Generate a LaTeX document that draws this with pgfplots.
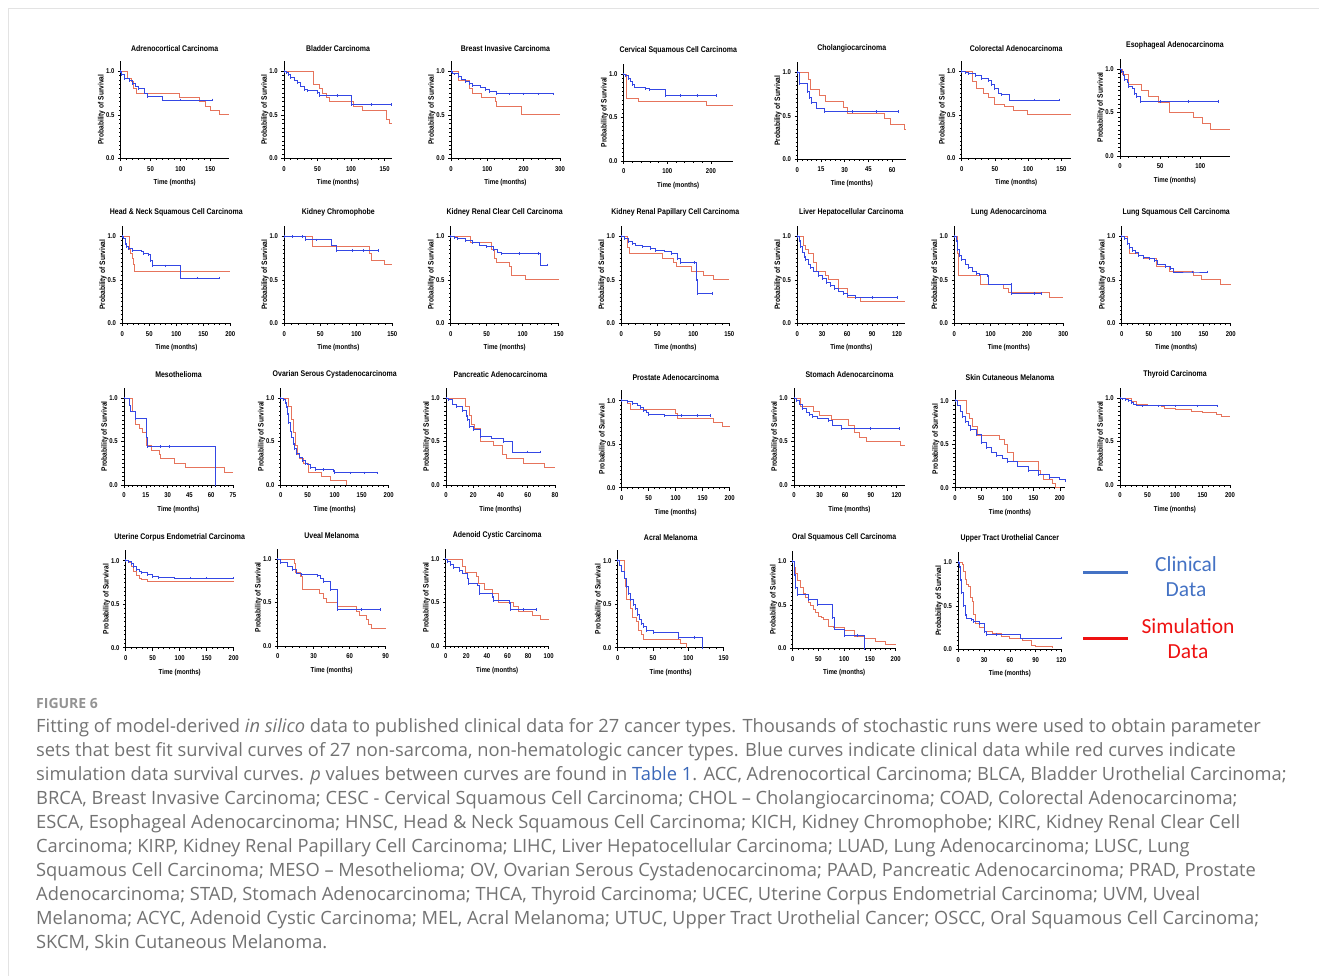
\documentclass[border=0pt]{standalone}
\usepackage{fontspec}
\setmainfont{Open Sans}
\newfontfamily\narrow[FakeStretch=0.85]{Liberation Sans}
\newfontfamily\legfont{Carlito}
\usepackage{pgfplots}
\pgfplotsset{compat=1.18}
\definecolor{clin}{HTML}{3447E4}
\definecolor{sim}{HTML}{E6745C}
\definecolor{captxt}{HTML}{727272}
\definecolor{link}{HTML}{3A67B8}
\definecolor{legblue}{HTML}{4472C4}
\definecolor{legred}{HTML}{EE1111}
\definecolor{framec}{HTML}{E3E3E3}

\pgfplotsset{
  km/.style={scale only axis, height=97.4pt, width=108pt, anchor=south west,
    xmin=0, ymin=0, ymax=1.12,
    axis x line=bottom, axis y line=left, axis line style={-, line width=0.7pt},
    ytick={0,0.5,1}, yticklabels={0.0,0.5,1.0},
    minor y tick num=9, minor x tick num=4,
    tick align=outside, major tick length=2.8pt, minor tick length=1.7pt,
    tick style={black, line width=0.55pt},
    ticklabel style={font=\narrow\bfseries\fontsize{7}{8}\selectfont},
    xticklabel style={yshift=-1.5pt},
    /pgf/number format/assume math mode=true,
    xlabel={Time (months)}, ylabel={Probability of Survival},
    xlabel style={font=\narrow\bfseries\fontsize{7.2}{8}\selectfont, yshift=-1.5pt},
    ylabel style={font=\narrow\bfseries\fontsize{7.8}{8}\selectfont, yshift=-6pt},
    title style={font=\narrow\bfseries\fontsize{8.2}{9}\selectfont, yshift=0pt},
    clip=false},
  simline/.style={sim, const plot, line width=0.9pt, mark=none},
  clinline/.style={clin, const plot, line width=0.9pt, mark=|, mark size=1.3pt},
}

\begin{document}
\begin{tikzpicture}[x=1pt,y=-1pt]
\useasboundingbox (0,0) rectangle (1319,976);
\draw[framec, line width=1pt] (8,976) -- (8,9) -- (1319,9);

% ---------------- row 1
\begin{axis}[km, at={(120.7pt,-158.3pt)}, xmax=181, xtick={0,50,100,150}, title={Adrenocortical Carcinoma}]
\addplot[simline] coordinates {(0,1)(11,0.92)(18,0.88)(22,0.8)(27,0.75)(98,0.70)(132,0.65)(142,0.6)(150,0.55)(166,0.5)(181,0.5)};
\addplot[clinline] coordinates {(0,1)(2,0.96)(6,0.92)(15,0.89)(20,0.86)(25,0.83)(30,0.80)(40,0.75)(45,0.71)(70,0.67)(100,0.67)(153,0.67)};
\end{axis}
\begin{axis}[km, at={(284pt,-158.3pt)}, xmax=161, xtick={0,50,100,150}, title={Bladder Carcinoma}]
\addplot[simline] coordinates {(0,1)(43.5,0.85)(53,0.8)(58,0.75)(64,0.7)(68,0.65)(103,0.6)(117,0.55)(152,0.45)(157,0.4)(161,0.4)};
\addplot[clinline] coordinates {(0,1)(3,0.99)(6,0.96)(10,0.93)(15,0.9)(20,0.87)(25,0.83)(30,0.79)(35,0.78)(50,0.76)(53,0.72)(80,0.72)(100,0.62)(130,0.62)(160,0.62)};
\end{axis}
\begin{axis}[km, at={(451pt,-158.3pt)}, width=109pt, xmax=300, xtick={0,100,200,300}, title={Breast Invasive Carcinoma}]
\addplot[simline] coordinates {(0,1)(20,0.9)(52,0.8)(59,0.75)(84,0.7)(121,0.65)(126,0.6)(195,0.5)(300,0.5)};
\addplot[clinline] coordinates {(0,1)(5,0.98)(10,0.97)(20,0.94)(30,0.91)(40,0.88)(50,0.86)(60,0.84)(80,0.82)(95,0.79)(105,0.77)(125,0.74)(160,0.74)(200,0.74)(240,0.74)(282,0.74)};
\end{axis}
\begin{axis}[km, at={(623.7pt,-161pt)}, width=109pt, xmax=250, xtick={0,100,200}, title={Cervical Squamous Cell Carcinoma}]
\addplot[simline] coordinates {(0,1)(7,0.72)(34,0.68)(190,0.64)(250,0.64)};
\addplot[clinline] coordinates {(0,1)(5,0.98)(10,0.95)(15,0.92)(20,0.88)(25,0.85)(50,0.83)(60,0.82)(95,0.75)(130,0.75)(170,0.75)(212,0.75)};
\end{axis}
\begin{axis}[km, at={(797.3pt,-159.3pt)}, width=109pt, xmax=69, xtick={0,15,30,45,60}, title={Cholangiocarcinoma}]
\addplot[simline] coordinates {(0,1)(7.3,0.92)(8.4,0.8)(14,0.73)(18,0.67)(29,0.6)(31.5,0.53)(55,0.47)(59,0.4)(68,0.34)(69,0.34)};
\addplot[clinline] coordinates {(0,1)(1.3,0.87)(6.5,0.78)(7.5,0.71)(9,0.65)(12,0.59)(17.4,0.55)(35,0.55)(50,0.55)(64,0.55)};
\end{axis}
\begin{axis}[km, at={(961.7pt,-158.3pt)}, width=109pt, xmax=164, xtick={0,50,100,150}, title={Colorectal Adenocarcinoma}]
\addplot[simline] coordinates {(0,1)(16.5,0.88)(22.5,0.8)(32,0.75)(40,0.7)(50,0.62)(65,0.6)(78,0.55)(99,0.5)(164,0.5)};
\addplot[clinline] coordinates {(0,1)(5,0.99)(10,0.97)(20,0.95)(30,0.92)(40,0.89)(45,0.85)(50,0.8)(55,0.75)(60,0.73)(72,0.67)(110,0.67)(147,0.67)};
\end{axis}
\begin{axis}[km, at={(1120pt,-156pt)}, width=110pt, xmax=137, xtick={0,50,100}, title={Esophageal Adenocarcinoma}]
\addplot[simline] coordinates {(0,1)(3.3,0.94)(10,0.82)(27,0.75)(35,0.69)(48,0.62)(62,0.5)(92,0.44)(103,0.37)(113,0.31)(137,0.31)};
\addplot[clinline] coordinates {(0,1)(2,0.97)(4,0.93)(6,0.88)(9,0.85)(11,0.8)(15,0.78)(18,0.72)(21,0.68)(25,0.63)(50,0.63)(85,0.63)(123,0.63)};
\end{axis}

% ---------------- row 2
\begin{axis}[km, at={(122.3pt,-323.3pt)}, xmax=200, xtick={0,50,100,150,200}, title={Head \& Neck Squamous Cell Carcinoma}]
\addplot[simline] coordinates {(0,1)(13,0.85)(15,0.8)(18.5,0.75)(20,0.68)(23,0.6)(200,0.6)};
\addplot[clinline] coordinates {(0,1)(3,0.98)(6,0.92)(8,0.88)(12,0.86)(18,0.84)(35,0.83)(40,0.8)(48,0.79)(52,0.72)(55,0.66)(80,0.66)(108,0.52)(140,0.52)(180,0.52)};
\end{axis}
\begin{axis}[km, at={(284.3pt,-323.3pt)}, xmax=150, xtick={0,50,100,150}, title={Kidney Chromophobe}]
\addplot[simline] coordinates {(0,1)(39,0.88)(118,0.8)(121,0.72)(139,0.68)(150,0.68)};
\addplot[clinline] coordinates {(0,1)(12,1)(25,1)(30,0.96)(45,0.96)(65,0.9)(73,0.84)(95,0.84)(110,0.84)(131,0.84)};
\end{axis}
\begin{axis}[km, at={(450.7pt,-323.3pt)}, xmax=150, xtick={0,50,100,150}, title={Kidney Renal Clear Cell Carcinoma}]
\addplot[simline] coordinates {(0,1)(28,0.93)(57,0.85)(61,0.75)(64,0.7)(81,0.65)(85,0.55)(104,0.5)(150,0.5)};
\addplot[clinline] coordinates {(0,1)(5,0.99)(10,0.97)(20,0.95)(30,0.93)(40,0.9)(50,0.88)(60,0.85)(65,0.82)(70,0.8)(95,0.8)(122,0.8)(125,0.67)(134,0.67)};
\end{axis}
\begin{axis}[km, at={(621.3pt,-323.3pt)}, xmax=150, xtick={0,50,100,150}, title={Kidney Renal Papillary Cell Carcinoma}]
\addplot[simline] coordinates {(0,1)(9,0.87)(12,0.8)(57,0.75)(72,0.7)(76,0.65)(98,0.6)(114,0.55)(128,0.5)(150,0.5)};
\addplot[clinline] coordinates {(0,1)(5,0.97)(10,0.94)(15,0.92)(20,0.9)(30,0.88)(40,0.86)(48,0.84)(60,0.83)(70,0.8)(78,0.74)(82,0.7)(102,0.7)(104,0.5)(106,0.34)(126,0.34)};
\end{axis}
\begin{axis}[km, at={(797.3pt,-323.3pt)}, xmax=130, xtick={0,30,60,90,120}, title={Liver Hepatocellular Carcinoma}]
\addplot[simline] coordinates {(0,1)(7,0.9)(10,0.85)(14,0.8)(19,0.7)(23,0.6)(34,0.55)(37,0.5)(50,0.4)(60,0.3)(76,0.25)(130,0.25)};
\addplot[clinline] coordinates {(0,1)(2,0.95)(4,0.88)(6,0.82)(8,0.77)(10,0.73)(13,0.68)(16,0.64)(20,0.6)(25,0.55)(30,0.51)(35,0.47)(40,0.43)(45,0.4)(50,0.37)(55,0.34)(60,0.32)(70,0.3)(90,0.3)(121,0.3)};
\end{axis}
\begin{axis}[km, at={(954.3pt,-323.3pt)}, width=109pt, xmax=300, xtick={0,100,200,300}, title={Lung Adenocarcinoma}]
\addplot[simline] coordinates {(0,1)(8,0.8)(12,0.55)(72,0.45)(135,0.4)(148,0.35)(263,0.3)(300,0.3)};
\addplot[clinline] coordinates {(0,1)(5,0.95)(10,0.85)(15,0.78)(20,0.73)(30,0.68)(40,0.64)(50,0.6)(60,0.57)(70,0.56)(90,0.55)(95,0.45)(157,0.45)(158,0.34)(220,0.34)(240,0.34)};
\end{axis}
\begin{axis}[km, at={(1121.7pt,-323.3pt)}, width=109pt, xmax=200, xtick={0,50,100,150,200}, title={Lung Squamous Cell Carcinoma}]
\addplot[simline] coordinates {(0,1)(10,0.92)(15,0.8)(30,0.78)(40,0.75)(64,0.65)(88,0.6)(131,0.55)(146,0.5)(181,0.45)(200,0.45)};
\addplot[clinline] coordinates {(0,1)(5,0.97)(10,0.92)(15,0.87)(20,0.84)(25,0.81)(30,0.78)(40,0.76)(50,0.74)(60,0.72)(65,0.68)(80,0.65)(90,0.63)(95,0.59)(130,0.59)(157,0.59)};
\end{axis}

% ---------------- row 3
\begin{axis}[km, at={(124pt,-485pt)}, width=109pt, xmax=75, xtick={0,15,30,45,60,75}, title={Mesothelioma}]
\addplot[simline] coordinates {(0,1)(5.7,0.85)(8,0.7)(10.5,0.65)(12.6,0.6)(15.5,0.45)(19,0.4)(24.7,0.35)(25.4,0.3)(34.5,0.25)(42.6,0.2)(69.3,0.15)(75,0.15)};
\addplot[clinline] coordinates {(0,1)(3.7,0.92)(4.6,0.85)(8,0.76)(15.5,0.55)(16,0.44)(25,0.44)(31,0.44)(62.7,0)};
\end{axis}
\begin{axis}[km, at={(280.7pt,-485pt)}, xmax=200, xtick={0,50,100,150,200}, title={Ovarian Serous Cystadenocarcinoma}]
\addplot[simline] coordinates {(0,1)(14,0.9)(19,0.75)(23,0.6)(27.6,0.45)(31,0.35)(35.6,0.3)(42,0.25)(52,0.15)(75,0.1)(92,0.05)(121,0)};
\addplot[clinline] coordinates {(0,1)(5,0.98)(8,0.95)(10,0.9)(12,0.82)(15,0.72)(18,0.62)(20,0.55)(23,0.48)(26,0.42)(30,0.36)(35,0.32)(40,0.28)(45,0.25)(50,0.24)(55,0.2)(65,0.18)(80,0.18)(97,0.17)(100,0.14)(130,0.14)(155,0.14)(180,0.14)};
\end{axis}
\begin{axis}[km, at={(446pt,-485pt)}, width=109pt, xmax=80, xtick={0,20,40,60,80}, title={Pancreatic Adenocarcinoma}]
\addplot[simline] coordinates {(0,1)(14,0.9)(17,0.8)(19,0.7)(21,0.65)(25,0.5)(34.7,0.45)(41.6,0.35)(44.5,0.3)(57,0.25)(72,0.2)(80,0.2)};
\addplot[clinline] coordinates {(0,1)(2,0.98)(5,0.93)(8,0.9)(12,0.86)(15,0.8)(16,0.75)(17,0.67)(20,0.64)(25,0.56)(33,0.54)(42,0.5)(49,0.38)(60,0.38)(69,0.38)};
\end{axis}
\begin{axis}[km, at={(621.7pt,-487.7pt)}, xmax=200, xtick={0,50,100,150,200}, title={Prostate Adenocarcinoma}]
\addplot[simline] coordinates {(0,1)(10,0.97)(16,0.9)(99,0.85)(103,0.8)(170,0.75)(187,0.7)(200,0.7)};
\addplot[clinline] coordinates {(0,1)(10,0.99)(20,0.97)(30,0.95)(35,0.92)(40,0.89)(45,0.87)(50,0.84)(80,0.83)(110,0.83)(140,0.83)(165,0.83)};
\end{axis}
\begin{axis}[km, at={(794pt,-485pt)}, width=111pt, xmax=130, xtick={0,30,60,90,120}, title={Stomach Adenocarcinoma}]
\addplot[simline] coordinates {(0,1)(7.7,0.9)(22.5,0.85)(30,0.8)(44,0.75)(64,0.68)(71,0.6)(77,0.55)(84.5,0.5)(125,0.45)(130,0.45)};
\addplot[clinline] coordinates {(0,1)(3,0.97)(6,0.93)(10,0.88)(14,0.84)(18,0.81)(22,0.79)(27,0.77)(40,0.74)(45,0.69)(55,0.65)(90,0.65)(123,0.65)};
\end{axis}
\begin{axis}[km, at={(955pt,-487.7pt)}, width=110pt, xmax=210, xtick={0,50,100,150,200}, title={Skin Cutaneous Melanoma}]
\addplot[simline] coordinates {(0,1)(21,0.85)(27,0.8)(33,0.7)(42,0.6)(85,0.55)(94,0.5)(101,0.4)(111,0.3)(160,0.2)(163,0.15)(169,0.1)(186,0.05)(192,0)(200,0)};
\addplot[clinline] coordinates {(0,1)(5,0.95)(10,0.88)(15,0.82)(20,0.76)(25,0.72)(30,0.67)(40,0.61)(50,0.52)(60,0.46)(70,0.41)(80,0.37)(90,0.34)(100,0.3)(120,0.25)(140,0.2)(160,0.15)(180,0.12)(200,0.1)(210,0.08)};
\end{axis}
\begin{axis}[km, at={(1120pt,-485pt)}, width=110pt, xmax=200, xtick={0,50,100,150,200}, title={Thyroid Carcinoma}]
\addplot[simline] coordinates {(0,1)(10,0.99)(20,0.96)(30,0.93)(50,0.92)(75,0.9)(80,0.88)(100,0.87)(130,0.85)(150,0.83)(175,0.81)(185,0.79)(200,0.79)};
\addplot[clinline] coordinates {(0,1)(5,0.99)(10,0.98)(15,0.97)(20,0.95)(25,0.93)(30,0.92)(40,0.91)(70,0.91)(100,0.91)(140,0.91)(178,0.91)};
\end{axis}

% ---------------- row 4
\begin{axis}[km, at={(125.7pt,-647.7pt)}, xmax=200, xtick={0,50,100,150,200}, title={Uterine Corpus Endometrial Carcinoma}]
\addplot[simline] coordinates {(0,1)(5,0.98)(10,0.94)(15,0.88)(20,0.83)(25,0.8)(30,0.78)(40,0.76)(200,0.76)};
\addplot[clinline] coordinates {(0,1)(5,0.99)(10,0.97)(15,0.93)(20,0.9)(25,0.88)(30,0.86)(40,0.84)(50,0.82)(60,0.81)(90,0.8)(120,0.8)(150,0.8)(200,0.8)};
\end{axis}
\begin{axis}[km, at={(277.7pt,-646pt)}, xmax=90, xtick={0,30,60,90}, title={Uveal Melanoma}]
\addplot[simline] coordinates {(0,1)(14,0.95)(15,0.85)(19,0.8)(21,0.65)(35,0.6)(38.5,0.55)(41,0.5)(50,0.45)(66,0.4)(68,0.35)(74,0.3)(76,0.25)(78,0.2)(90,0.2)};
\addplot[clinline] coordinates {(0,1)(2,0.96)(8,0.92)(12,0.88)(16,0.84)(20,0.82)(33,0.81)(36,0.78)(38,0.74)(44,0.65)(50,0.42)(70,0.42)(86,0.42)};
\end{axis}
\begin{axis}[km, at={(445.7pt,-646pt)}, width=103pt, xmax=100, xtick={0,20,40,60,80,100}, title={Adenoid Cystic Carcinoma}]
\addplot[simline] coordinates {(0,1)(16,0.92)(19.5,0.85)(30,0.8)(32,0.72)(38,0.65)(45,0.6)(51,0.5)(66,0.45)(71,0.4)(84,0.35)(92,0.3)(100,0.3)};
\addplot[clinline] coordinates {(0,1)(2,0.97)(5,0.94)(8,0.9)(13,0.87)(16,0.84)(21,0.78)(22,0.72)(31,0.7)(33,0.6)(45,0.57)(46,0.52)(62,0.5)(63,0.42)(75,0.42)(88,0.42)};
\end{axis}
\begin{axis}[km, at={(617.7pt,-647.7pt)}, width=106pt, xmax=150, xtick={0,50,100,150}, title={Acral Melanoma}]
\addplot[simline] coordinates {(0,1)(9.5,0.8)(11.4,0.7)(13,0.55)(18.5,0.45)(21,0.35)(27,0.3)(29,0.2)(33,0.15)(36,0.1)(88.6,0.05)(96.7,0)};
\addplot[clinline] coordinates {(0,1)(3,0.95)(6,0.88)(9,0.8)(12,0.7)(15,0.62)(18,0.55)(22,0.5)(25,0.45)(28,0.38)(31,0.33)(34,0.28)(37,0.24)(40,0.2)(50,0.17)(86,0.12)(108,0.12)(120,0)};
\end{axis}
\begin{axis}[km, at={(792.7pt,-648.3pt)}, width=103pt, xmax=200, xtick={0,50,100,150,200}, title={Oral Squamous Cell Carcinoma}]
\addplot[simline] coordinates {(0,1)(3,0.93)(6,0.86)(10,0.78)(15,0.7)(20,0.63)(25,0.58)(30,0.53)(35,0.49)(40,0.45)(45,0.41)(50,0.37)(55,0.35)(60,0.33)(70,0.25)(80,0.24)(100,0.2)(120,0.14)(140,0.11)(160,0.08)(180,0.05)(200,0.04)};
\addplot[clinline] coordinates {(0,1)(3,0.85)(6,0.7)(9,0.62)(30,0.56)(48,0.5)(78,0.35)(82,0.22)(100,0.15)(125,0.15)(140,0)};
\end{axis}
\begin{axis}[km, at={(958.3pt,-649.3pt)}, width=103pt, xmax=120, xtick={0,30,60,90,120}, title={Upper Tract Urothelial Cancer}]
\addplot[simline] coordinates {(0,1)(5,0.98)(5.5,0.9)(8,0.8)(10,0.75)(12,0.72)(14,0.6)(16,0.55)(18,0.4)(20,0.3)(25,0.25)(30,0.2)(40,0.18)(50,0.15)(60,0.12)(75,0.1)(85,0.05)(90,0.03)(110,0.02)};
\addplot[clinline] coordinates {(0,1)(1,0.95)(3,0.8)(4,0.65)(6,0.5)(8,0.4)(10,0.36)(15,0.34)(18,0.32)(25,0.3)(30,0.2)(33,0.17)(45,0.17)(72,0.13)(120,0.13)};
\end{axis}

% ---------------- legend
\draw[legblue, line width=3pt] (1083,572) -- (1128,572);
\node[legblue, font=\legfont\fontsize{21.5}{25}\selectfont, align=center] at (1186,576.5) {Clinical\\Data};
\draw[legred, line width=3pt] (1083,638) -- (1128,638);
\node[legred, font=\legfont\fontsize{21.5}{25}\selectfont, align=center] at (1188,638.5) {Simulation\\Data};

% ---------------- caption
\begin{scope}[every node/.style={anchor=base west, inner sep=0pt, text=captxt, font=\fontsize{18.3}{24}\selectfont}]
\node[font=\bfseries\fontsize{14}{16}\selectfont, text=gray!85] at (36,708) {FIGURE 6};
\node at (36,732) {Fitting of model-derived \textit{in silico} data to published clinical data for 27 cancer types. Thousands of stochastic runs were used to obtain parameter};
\node at (36,756) {sets that best fit survival curves of 27 non-sarcoma, non-hematologic cancer types. Blue curves indicate clinical data while red curves indicate};
\node at (36,780) {simulation data survival curves. \textit{p} values between curves are found in \textcolor{link}{Table 1}. ACC, Adrenocortical Carcinoma; BLCA, Bladder Urothelial Carcinoma;};
\node at (36,804) {BRCA, Breast Invasive Carcinoma; CESC - Cervical Squamous Cell Carcinoma; CHOL – Cholangiocarcinoma; COAD, Colorectal Adenocarcinoma;};
\node at (36,828) {ESCA, Esophageal Adenocarcinoma; HNSC, Head \& Neck Squamous Cell Carcinoma; KICH, Kidney Chromophobe; KIRC, Kidney Renal Clear Cell};
\node at (36,852) {Carcinoma; KIRP, Kidney Renal Papillary Cell Carcinoma; LIHC, Liver Hepatocellular Carcinoma; LUAD, Lung Adenocarcinoma; LUSC, Lung};
\node at (36,876) {Squamous Cell Carcinoma; MESO – Mesothelioma; OV, Ovarian Serous Cystadenocarcinoma; PAAD, Pancreatic Adenocarcinoma; PRAD, Prostate};
\node at (36,900) {Adenocarcinoma; STAD, Stomach Adenocarcinoma; THCA, Thyroid Carcinoma; UCEC, Uterine Corpus Endometrial Carcinoma; UVM, Uveal};
\node at (36,924) {Melanoma; ACYC, Adenoid Cystic Carcinoma; MEL, Acral Melanoma; UTUC, Upper Tract Urothelial Cancer; OSCC, Oral Squamous Cell Carcinoma;};
\node at (36,948) {SKCM, Skin Cutaneous Melanoma.};
\end{scope}
\end{tikzpicture}
\end{document}
